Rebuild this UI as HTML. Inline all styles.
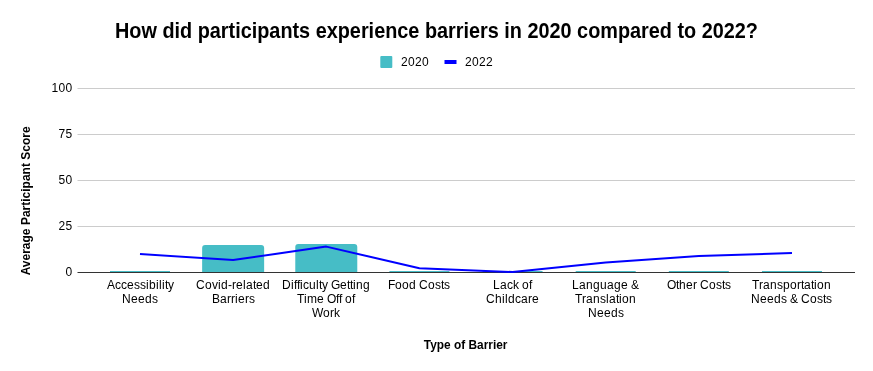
<!DOCTYPE html>
<html><head><meta charset="utf-8"><style>
html,body{margin:0;padding:0;background:#fff;}
svg{display:block;will-change:transform;}
text{font-family:"Liberation Sans",sans-serif;}
</style></head><body>
<svg width="873" height="371" viewBox="0 0 873 371">
<rect width="873" height="371" fill="#fff"/>
<text x="115.0" y="38" textLength="643" lengthAdjust="spacingAndGlyphs" font-size="21.5" font-weight="bold" fill="#000">How did participants experience barriers in 2020 compared to 2022?</text>
<rect x="380.3" y="56" width="12" height="12" rx="1" fill="#46bdc6"/>
<text x="401 408 415 422" y="66" font-size="12" fill="#000" >2020</text>
<rect x="444.5" y="60" width="12" height="4" fill="#0000ff"/>
<text x="465 472 479 486" y="66" font-size="12" fill="#000" >2022</text>
<g stroke="#cccccc" stroke-width="1">
<line x1="77.5" y1="88.5" x2="855" y2="88.5"/>
<line x1="77.5" y1="134.5" x2="855" y2="134.5"/>
<line x1="77.5" y1="180.5" x2="855" y2="180.5"/>
<line x1="77.5" y1="226.5" x2="855" y2="226.5"/>
</g>
<text x="51.4 58.4 65.4" y="91.8" font-size="12" fill="#000" >100</text>
<text x="58.4 65.4" y="137.8" font-size="12" fill="#000" >75</text>
<text x="58.4 65.4" y="183.8" font-size="12" fill="#000" >50</text>
<text x="58.4 65.4" y="229.8" font-size="12" fill="#000" >25</text>
<text x="65.4" y="275.8" font-size="12" fill="#000" >0</text>

<rect x="110.00" y="271" width="60" height="1" fill="#46bdc6"/>
<path d="M202.14,272 L202.14,248.00 Q202.14,245.00 205.14,245.00 L261.14,245.00 Q264.14,245.00 264.14,248.00 L264.14,272 Z" fill="#46bdc6"/>
<path d="M295.28,272 L295.28,247.00 Q295.28,244.00 298.28,244.00 L354.28,244.00 Q357.28,244.00 357.28,247.00 L357.28,272 Z" fill="#46bdc6"/>
<rect x="389.42" y="271" width="60" height="1" fill="#46bdc6"/>
<rect x="482.56" y="271" width="60" height="1" fill="#46bdc6"/>
<rect x="575.70" y="271" width="60" height="1" fill="#46bdc6"/>
<rect x="668.84" y="271" width="60" height="1" fill="#46bdc6"/>
<rect x="761.98" y="271" width="60" height="1" fill="#46bdc6"/>
<line x1="77.5" y1="272.5" x2="855" y2="272.5" stroke="#333" stroke-width="1"/>
<polyline points="140.00,254.07 233.14,260.10 326.28,246.60 419.42,268.25 512.56,272.00 605.70,262.60 698.84,256.00 791.98,253.06" fill="none" stroke="#0000ff" stroke-width="2" stroke-linejoin="round"/>
<text x="107 115 121 127 134 140 146 149 156 159 162 165 168" y="289" font-size="12" fill="#000" >Accessibility</text>
<text x="122 131 138 145 152" y="303" font-size="12" fill="#000" >Needs</text>
<text x="196 205 212 218 221 228 232 236 243 246 253 256 263" y="289" font-size="12" fill="#000" >Covid-related</text>
<text x="212 220 227 231 235 238 245 249" y="303" font-size="12" fill="#000" >Barriers</text>
<text x="282 291 294 297 300 303 309 316 319 322 328 331 340 347 350 353 356 363" y="289" font-size="12" fill="#000" >Difficulty Getting</text>
<text x="297 304 307 317 324 327 336 339 342 345 352" y="303" font-size="12" fill="#000" >Time Off of</text>
<text x="312 323 330 334" y="317" font-size="12" fill="#000" >Work</text>
<text x="388 395 402 409 416 419 428 435 441 444" y="289" font-size="12" fill="#000" >Food Costs</text>
<text x="493 500 507 513 519 522 529" y="289" font-size="12" fill="#000" >Lack of</text>
<text x="486 495 502 505 508 515 521 528 532" y="303" font-size="12" fill="#000" >Childcare</text>
<text x="572 579 586 593 600 607 614 621 628 631" y="289" font-size="12" fill="#000" >Language &amp;</text>
<text x="575 582 586 593 600 606 609 616 619 622 629" y="303" font-size="12" fill="#000" >Translation</text>
<text x="588 597 604 611 618" y="317" font-size="12" fill="#000" >Needs</text>
<text x="667 676 679 686 693 697 700 709 716 722 725" y="289" font-size="12" fill="#000" >Other Costs</text>
<text x="752 759 763 770 777 783 790 797 801 804 811 814 817 824" y="289" font-size="12" fill="#000" >Transportation</text>
<text x="751 760 767 774 781 787 790 798 801 810 817 823 826" y="303" font-size="12" fill="#000" >Needs &amp; Costs</text>

<text x="423.8" y="349" textLength="83.66" lengthAdjust="spacingAndGlyphs" font-size="12" font-weight="bold" fill="#000">Type of Barrier</text>
<text transform="translate(30,200.9) rotate(-90)" text-anchor="middle" font-size="12" font-weight="bold" fill="#000">Average Participant Score</text>
</svg>
</body></html>
